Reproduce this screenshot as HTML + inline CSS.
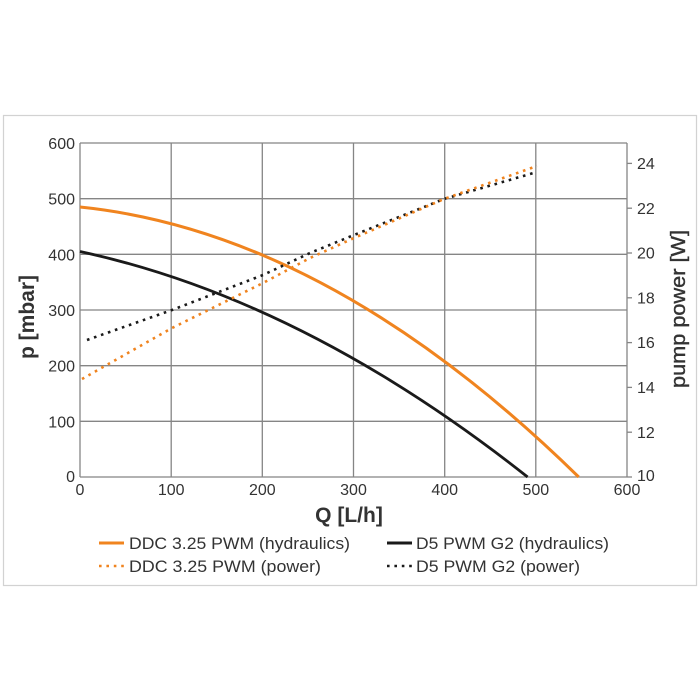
<!DOCTYPE html>
<html>
<head>
<meta charset="utf-8">
<style>
  html,body{margin:0;padding:0;background:#fff;}
  svg{display:block;}
  text{font-family:"Liberation Sans",sans-serif;fill:#333;}
</style>
</head>
<body>
<svg width="700" height="700" viewBox="0 0 700 700" xmlns="http://www.w3.org/2000/svg">
  <rect x="0" y="0" width="700" height="700" fill="#fff"/>
  <!-- frame -->
  <rect x="3.5" y="115.5" width="693" height="470" fill="#fff" stroke="#d2d2d2" stroke-width="1.2"/>

  <!-- grid -->
  <g stroke="#858585" stroke-width="1.3" fill="none">
    <line x1="80" y1="143" x2="80" y2="477"/>
    <line x1="171.2" y1="143" x2="171.2" y2="477"/>
    <line x1="262.3" y1="143" x2="262.3" y2="477"/>
    <line x1="353.5" y1="143" x2="353.5" y2="477"/>
    <line x1="444.7" y1="143" x2="444.7" y2="477"/>
    <line x1="535.8" y1="143" x2="535.8" y2="477"/>
    <line x1="627" y1="143" x2="627" y2="477"/>
    <line x1="80" y1="143" x2="627" y2="143"/>
    <line x1="80" y1="198.7" x2="627" y2="198.7"/>
    <line x1="80" y1="254.3" x2="627" y2="254.3"/>
    <line x1="80" y1="310" x2="627" y2="310"/>
    <line x1="80" y1="365.7" x2="627" y2="365.7"/>
    <line x1="80" y1="421.3" x2="627" y2="421.3"/>
    <line x1="80" y1="477" x2="627" y2="477"/>
    <!-- right ticks -->
    <line x1="627" y1="477" x2="632" y2="477"/>
    <line x1="627" y1="432.2" x2="632" y2="432.2"/>
    <line x1="627" y1="387.4" x2="632" y2="387.4"/>
    <line x1="627" y1="342.6" x2="632" y2="342.6"/>
    <line x1="627" y1="297.8" x2="632" y2="297.8"/>
    <line x1="627" y1="253" x2="632" y2="253"/>
    <line x1="627" y1="208.2" x2="632" y2="208.2"/>
    <line x1="627" y1="163.4" x2="632" y2="163.4"/>
  </g>

  <!-- left tick labels -->
  <g font-size="16" text-anchor="end">
    <text x="75" y="149">600</text>
    <text x="75" y="204.7">500</text>
    <text x="75" y="260.3">400</text>
    <text x="75" y="316">300</text>
    <text x="75" y="371.7">200</text>
    <text x="75" y="427.3">100</text>
    <text x="75" y="482">0</text>
  </g>
  <!-- bottom tick labels -->
  <g font-size="16" text-anchor="middle">
    <text x="80" y="495">0</text>
    <text x="171.2" y="495">100</text>
    <text x="262.3" y="495">200</text>
    <text x="353.5" y="495">300</text>
    <text x="444.7" y="495">400</text>
    <text x="535.8" y="495">500</text>
    <text x="627" y="495">600</text>
  </g>
  <!-- right tick labels -->
  <g font-size="16" text-anchor="start">
    <text x="637" y="481">10</text>
    <text x="637" y="438">12</text>
    <text x="637" y="393">14</text>
    <text x="637" y="348">16</text>
    <text x="637" y="303.5">18</text>
    <text x="637" y="258.5">20</text>
    <text x="637" y="214">22</text>
    <text x="637" y="169">24</text>
  </g>

  <!-- axis titles -->
  <text x="349" y="522" font-size="21" font-weight="bold" text-anchor="middle">Q [L/h]</text>
  <text transform="translate(34,317) rotate(-90)" font-size="21" font-weight="bold" text-anchor="middle">p [mbar]</text>
  <text transform="translate(685,309) rotate(-90)" font-size="20" text-anchor="middle" textLength="158" lengthAdjust="spacingAndGlyphs" style="stroke:#333;stroke-width:0.4">pump power [W]</text>

  <!-- hydraulics curves -->
  <path d="M80,207 Q329.3,232.7 578.7,477" fill="none" stroke="#f0841f" stroke-width="3"/>
  <path d="M80,251.5 Q303.8,299.9 527.6,477" fill="none" stroke="#1a1a1a" stroke-width="2.8"/>

  <!-- power curves (dotted) -->
  <polyline points="87,340 172,310 263,275 310,253 354,235 444,199 537,172" fill="none" stroke="#1a1a1a" stroke-width="2.6" stroke-dasharray="2.6 4.8"/>
  <polyline points="82,379 172,328 263,283 310,258 354,238 444,199 537,166" fill="none" stroke="#f0841f" stroke-width="2.6" stroke-dasharray="2.6 4.8"/>

  <!-- legend -->
  <line x1="99" y1="543" x2="124" y2="543" stroke="#f0841f" stroke-width="3"/>
  <line x1="99" y1="566" x2="126" y2="566" stroke="#f0841f" stroke-width="2.6" stroke-dasharray="2.6 4.8"/>
  <line x1="387" y1="543" x2="412" y2="543" stroke="#1a1a1a" stroke-width="3"/>
  <line x1="387" y1="566" x2="414" y2="566" stroke="#1a1a1a" stroke-width="2.6" stroke-dasharray="2.6 4.8"/>
  <g font-size="17">
    <text x="129" y="549" textLength="221" lengthAdjust="spacingAndGlyphs">DDC 3.25 PWM (hydraulics)</text>
    <text x="129" y="572" textLength="192" lengthAdjust="spacingAndGlyphs">DDC 3.25 PWM (power)</text>
    <text x="416" y="549" textLength="193" lengthAdjust="spacingAndGlyphs">D5 PWM G2 (hydraulics)</text>
    <text x="416" y="572" textLength="164" lengthAdjust="spacingAndGlyphs">D5 PWM G2 (power)</text>
  </g>
</svg>
</body>
</html>
